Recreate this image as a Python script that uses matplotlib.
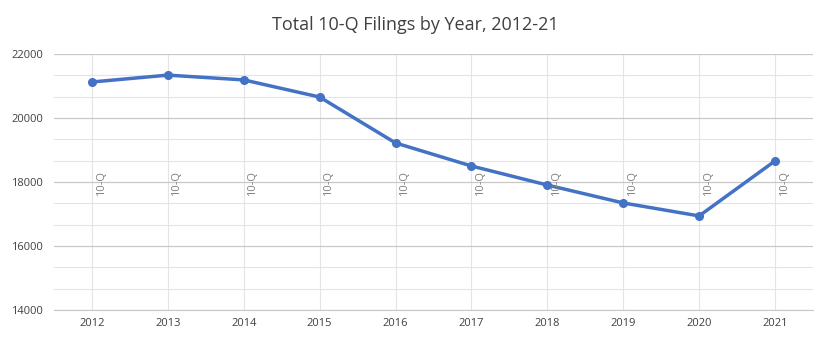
import matplotlib
matplotlib.use("Agg")
import matplotlib.pyplot as plt
from matplotlib.ticker import MultipleLocator

plt.rcParams['font.family'] = ['Open Sans', 'DejaVu Sans']

years = ['2012', '2013', '2014', '2015', '2016', '2017', '2018', '2019', '2020', '2021']
filings = [21125, 21340, 21190, 20655, 19220, 18500, 17905, 17345, 16940, 18660]
label_text = '10-Q'

fig = plt.figure(figsize=(8.31, 3.46), dpi=100)
ax = fig.add_axes([54 / 831, 1 - 310 / 346, (813 - 54) / 831, (310 - 54) / 346])

x = list(range(len(years)))
ax.plot(x, filings, color='#4472C4', linewidth=2.5, marker='o', markersize=5.5, zorder=3)

for i in x:
    ax.text(i + 0.12, 17950, label_text, rotation=90, ha='center', va='center',
            fontsize=8, color='#7f7f7f', zorder=4)

ax.set_xlim(-0.5, len(years) - 0.5)
ax.set_ylim(14000, 22000)
ax.set_xticks(x)
ax.set_xticklabels(years)
ax.yaxis.set_major_locator(MultipleLocator(2000))
ax.yaxis.set_minor_locator(MultipleLocator(2000 / 3))

ax.grid(axis='y', which='major', color='#c8c8c8', linewidth=0.9)
ax.grid(axis='y', which='minor', color='#e4e4e4', linewidth=0.8)
ax.grid(axis='x', which='major', color='#e4e4e4', linewidth=0.8)
ax.set_axisbelow(True)

for s in ['top', 'right', 'left']:
    ax.spines[s].set_visible(False)
ax.spines['bottom'].set_color('#c8c8c8')
ax.tick_params(axis='both', which='both', length=0, labelsize=8, colors='#404040')
ax.tick_params(axis='x', pad=6)
ax.tick_params(axis='y', pad=8)

fig.text(0.5, 1 - 25 / 346, 'Total 10-Q Filings by Year, 2012-21', ha='center', va='center',
         fontsize=13, color='#404040')

fig.savefig('out.png', dpi=100)
